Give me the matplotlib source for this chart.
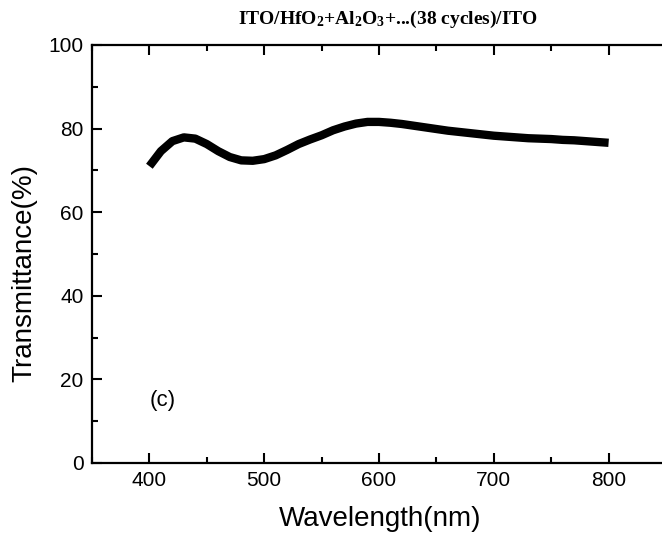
import numpy as np
import matplotlib
matplotlib.use("Agg")
import matplotlib.pyplot as plt
from matplotlib.ticker import MultipleLocator

# data
wavelength = [400, 410, 420, 430, 440, 450, 460, 470, 480, 490, 500,
              510, 520, 530, 540, 550, 560, 570, 580, 590, 600,
              610, 620, 630, 640, 650, 660, 670, 680, 690, 700,
              710, 720, 730, 740, 750, 760, 770, 780, 790, 800]
transmittance = [71.0, 74.6, 77.0, 77.9, 77.6, 76.3, 74.6, 73.2, 72.4, 72.3, 72.7,
                 73.6, 74.9, 76.3, 77.4, 78.4, 79.6, 80.5, 81.2, 81.6, 81.6,
                 81.4, 81.1, 80.7, 80.3, 79.9, 79.5, 79.2, 78.9, 78.6, 78.3,
                 78.1, 77.9, 77.7, 77.6, 77.5, 77.3, 77.2, 77.0, 76.8, 76.6]
xticks = [400, 500, 600, 700, 800]
yticks = [0, 20, 40, 60, 80, 100]

plt.rcParams['font.family'] = ['Liberation Sans', 'DejaVu Sans']
plt.rcParams['mathtext.fontset'] = 'custom'
plt.rcParams['mathtext.rm'] = 'Liberation Serif:bold'
plt.rcParams['mathtext.it'] = 'Liberation Serif:bold'
plt.rcParams['mathtext.bf'] = 'Liberation Serif:bold'

fig = plt.figure(figsize=(6.62, 5.41), dpi=100)
ax = fig.add_axes([92/662, 1-463/541, 574/662, 418/541])

ax.plot(wavelength, transmittance, color='black', lw=6,
        solid_capstyle='butt', solid_joinstyle='round')

ax.set_xlim(350, 850)
ax.set_ylim(0, 100)
ax.set_xticks(xticks)
ax.set_yticks(yticks)
ax.xaxis.set_minor_locator(MultipleLocator(50))
ax.yaxis.set_minor_locator(MultipleLocator(10))
ax.tick_params(which='both', direction='in', top=True, right=False, width=1.5,
               labelsize=15, pad=6)
ax.tick_params(which='major', length=7)
ax.tick_params(which='minor', length=4)
for s in ax.spines.values():
    s.set_linewidth(1.6)
ax.spines['right'].set_visible(False)

ax.text(412, 15, '(c)', fontsize=16, ha='center', va='center')

fig.text(24/662, 1-273/541, 'Transmittance(%)', rotation=90, fontsize=20,
         ha='center', va='center')
fig.text(380/662, 1-519/541, 'Wavelength(nm)', fontsize=20,
         ha='center', va='center')
fig.text(388/662, 1-19/541, r'ITO/HfO$_2$+Al$_2$O$_3$+...(38 cycles)/ITO',
         fontsize=14, fontfamily='Liberation Serif', fontweight='bold',
         ha='center', va='center')

fig.savefig('out.png', dpi=100)
